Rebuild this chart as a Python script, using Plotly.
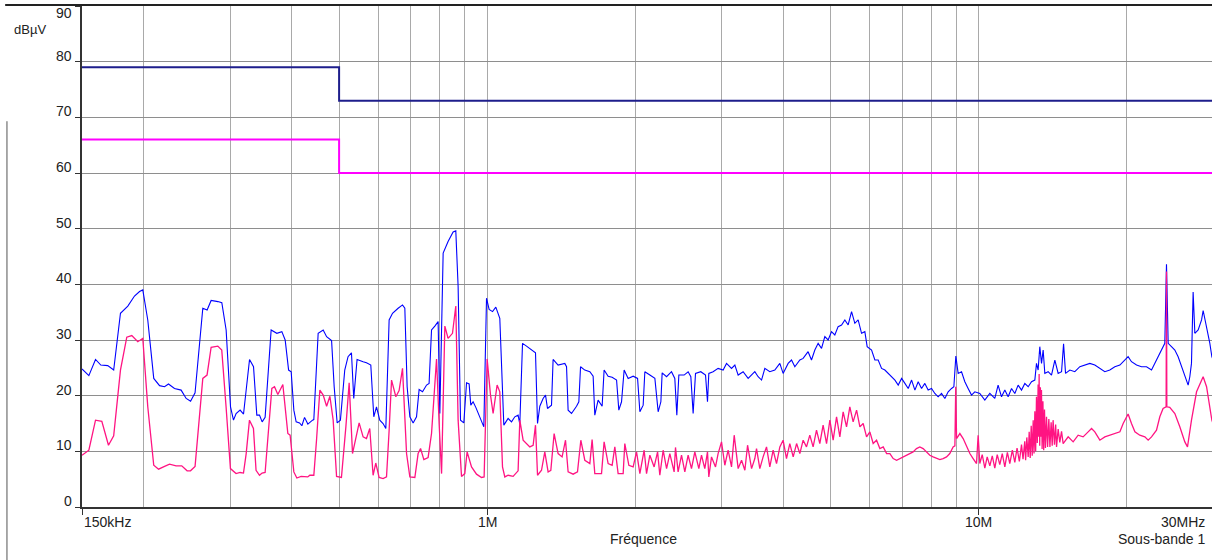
import numpy as np
import plotly.graph_objects as go

# ---------------- data (frequency in MHz, level in dBuV) ----------------
limit_f = [0.15, 0.5, 0.5, 30.0]
qp_limit = [79, 79, 73, 73]
avg_limit = [66, 66, 60, 60]

peak_f = [
    0.1500, 0.1549, 0.1598, 0.1638, 0.1692, 0.1740, 0.1796, 0.1859, 0.1918, 0.1964,
    0.1994, 0.2041, 0.2099, 0.2157, 0.2208, 0.2249, 0.2313, 0.2386, 0.2443, 0.2494,
    0.2547, 0.2641, 0.2695, 0.2746, 0.2834, 0.2887, 0.2946, 0.3007, 0.3049, 0.3087,
    0.3145, 0.3196, 0.3287, 0.3349, 0.3401, 0.3444, 0.3487, 0.3536, 0.3637, 0.3735,
    0.3824, 0.3884, 0.3947, 0.3995, 0.4045, 0.4089, 0.4155, 0.4200, 0.4253, 0.4319,
    0.4415, 0.4442, 0.4533, 0.4641, 0.4716, 0.4827, 0.4886, 0.4955, 0.5031, 0.5134,
    0.5214, 0.5298, 0.5355, 0.5439, 0.5595, 0.5684, 0.5800, 0.5882, 0.5957, 0.6049,
    0.6143, 0.6223, 0.6320, 0.6421, 0.6592, 0.6729, 0.6802, 0.6876, 0.6964, 0.7072,
    0.7185, 0.7273, 0.7390, 0.7531, 0.7621, 0.7708, 0.7828, 0.7950, 0.8014, 0.8139,
    0.8329, 0.8528, 0.8636, 0.8730, 0.8829, 0.8966, 0.9081, 0.9192, 0.9264, 0.9365,
    0.9484, 0.9618, 0.9741, 0.9847, 0.9972, 1.0094, 1.0257, 1.0416, 1.0612, 1.0698,
    1.0814, 1.1033, 1.1211, 1.1384, 1.1561, 1.1654, 1.1803, 1.2026, 1.2213, 1.2543,
    1.2662, 1.2799, 1.2998, 1.3145, 1.3267, 1.3520, 1.3620, 1.3943, 1.4388, 1.4505,
    1.4613, 1.4847, 1.5200, 1.5365, 1.5488, 1.5801, 1.6177, 1.6429, 1.6558, 1.6816,
    1.7136, 1.7295, 1.7624, 1.7957, 1.8334, 1.8529, 1.8765, 1.8996, 1.9358, 1.9814,
    2.0229, 2.0449, 2.0767, 2.0930, 2.1427, 2.1936, 2.2277, 2.2561, 2.2697, 2.3172,
    2.3714, 2.4083, 2.4312, 2.4543, 2.5155, 2.5633, 2.5960, 2.6242, 2.6534, 2.7201,
    2.7808, 2.8066, 2.8241, 2.8812, 2.9496, 3.0200, 3.0684, 3.1408, 3.1903, 3.2400,
    3.3163, 3.3950, 3.5030, 3.5576, 3.6150, 3.6712, 3.7576, 3.8468, 3.9381, 3.9994,
    4.0944, 4.1600, 4.2250, 4.3251, 4.3924, 4.4957, 4.5676, 4.6397, 4.7120, 4.7875,
    4.8620, 4.9377, 5.0168, 5.0949, 5.1742, 5.2584, 5.3402, 5.4233, 5.5102, 5.5959,
    5.6830, 5.7742, 5.8641, 5.9279, 6.0520, 6.1462, 6.2420, 6.3420, 6.4407, 6.5409,
    6.6457, 6.7507, 6.8558, 6.9657, 7.0741, 7.1842, 7.2994, 7.4131, 7.5285, 7.6478,
    7.7667, 7.8875, 8.0138, 8.1385, 8.2651, 8.3976, 8.5297, 8.6624, 8.8012, 8.8970,
    8.9794, 9.0771, 9.2226, 9.3660, 9.5117, 9.6642, 9.8152, 10.046, 10.285, 10.529,
    10.777, 10.945, 11.122, 11.295, 11.471, 11.655, 11.836, 12.021, 12.213, 12.404,
    12.599, 12.800, 12.999, 13.101, 13.201, 13.305, 13.413, 13.515, 13.622, 13.834,
    14.055, 14.277, 14.499, 14.732, 14.871, 15.009, 15.316, 15.677, 16.049, 16.430,
    16.817, 17.216, 17.625, 18.040, 18.468, 18.906, 19.360, 19.810, 20.120, 20.440,
    20.930, 21.420, 21.930, 22.450, 22.980, 23.530, 23.890, 24.080, 24.270, 24.650,
    25.040, 25.430, 25.840, 26.240, 26.650, 26.860, 27.070, 27.280, 27.500, 27.930,
    28.380, 28.590, 29.050, 29.500, 29.780, 29.950,
]
peak_v = [
    24.8, 23.6, 26.5, 25.5, 25.4, 24.6, 34.8, 36.1, 37.9, 38.7,
    39.0, 33.6, 23.1, 21.8, 21.6, 22.1, 21.3, 21.0, 19.5, 19.0,
    20.5, 35.7, 35.4, 37.1, 36.9, 36.7, 31.8, 18.0, 15.6, 16.8,
    17.4, 16.7, 26.5, 25.2, 16.5, 16.5, 15.3, 16.1, 31.8, 31.2,
    31.5, 30.0, 24.6, 24.3, 17.4, 15.3, 15.1, 14.6, 16.1, 14.9,
    15.6, 15.7, 31.2, 31.8, 30.6, 29.9, 21.6, 15.1, 15.6, 24.6,
    27.0, 27.7, 19.5, 26.5, 26.1, 25.9, 25.5, 16.2, 18.0, 15.6,
    15.0, 14.1, 33.6, 34.8, 35.7, 36.3, 35.7, 21.6, 16.2, 15.1,
    16.2, 21.1, 20.7, 21.9, 22.2, 31.8, 32.5, 33.3, 16.8, 45.6,
    47.7, 49.4, 49.6, 39.6, 15.6, 15.1, 22.3, 22.1, 18.3, 18.9,
    17.9, 16.5, 15.3, 14.4, 37.5, 35.5, 35.1, 35.9, 33.9, 24.6,
    14.7, 15.9, 15.3, 16.2, 16.5, 14.9, 29.4, 28.9, 28.5, 27.7,
    15.0, 18.1, 19.5, 20.1, 17.7, 18.3, 26.5, 25.5, 25.8, 25.2,
    17.4, 16.8, 18.1, 18.9, 25.2, 24.6, 24.3, 23.5, 16.5, 19.2,
    18.1, 24.6, 23.5, 23.3, 22.8, 17.4, 18.9, 24.6, 23.1, 23.5,
    23.1, 17.1, 18.3, 24.3, 23.7, 23.1, 17.1, 18.9, 24.1, 23.4,
    24.3, 23.1, 16.5, 23.7, 23.7, 24.3, 23.4, 16.8, 24.0, 24.3,
    23.7, 18.9, 24.0, 24.3, 24.9, 24.6, 25.8, 24.9, 25.5, 23.7,
    24.3, 23.1, 24.3, 23.4, 22.8, 24.9, 24.3, 24.6, 25.8, 24.0,
    25.8, 26.4, 25.2, 26.4, 26.7, 27.9, 26.4, 28.2, 29.4, 28.5,
    30.6, 30.0, 31.5, 30.9, 32.4, 32.7, 33.6, 32.7, 35.1, 33.0,
    33.6, 31.2, 31.5, 28.8, 28.2, 26.4, 26.4, 24.9, 24.6, 24.0,
    23.4, 22.8, 21.9, 23.1, 22.2, 21.3, 22.8, 21.0, 22.5, 21.3,
    22.2, 21.0, 21.3, 20.4, 19.8, 20.4, 19.5, 20.7, 21.3, 21.6,
    27.1, 24.0, 24.3, 22.5, 21.3, 20.1, 20.7, 20.4, 19.2, 20.4,
    19.5, 21.9, 19.8, 21.0, 19.8, 21.3, 20.4, 21.9, 21.0, 22.2,
    21.6, 22.5, 22.8, 25.8, 24.6, 28.8, 25.8, 28.2, 24.0, 24.3,
    23.7, 26.4, 24.0, 24.3, 29.3, 24.0, 24.6, 24.3, 25.2, 25.5,
    25.8, 25.5, 24.9, 24.3, 24.6, 25.2, 25.5, 26.4, 27.0, 26.1,
    25.5, 25.2, 25.2, 24.6, 26.4, 28.2, 29.4, 43.6, 29.4, 28.8,
    28.2, 27.0, 25.2, 23.7, 21.9, 23.4, 25.8, 38.6, 31.2, 31.8,
    33.6, 35.3, 32.4, 29.4, 27.0, 26.5,
]

# average trace, below 10 MHz
avg_f_low = [
    0.1500, 0.1549, 0.1598, 0.1646, 0.1698, 0.1740, 0.1796, 0.1850, 0.1894, 0.1948,
    0.1994, 0.2041, 0.2099, 0.2147, 0.2208, 0.2260, 0.2330, 0.2393, 0.2454, 0.2493,
    0.2547, 0.2641, 0.2694, 0.2746, 0.2833, 0.2886, 0.2945, 0.3006, 0.3086, 0.3145,
    0.3195, 0.3236, 0.3286, 0.3348, 0.3389, 0.3444, 0.3486, 0.3536, 0.3649, 0.3695,
    0.3753, 0.3842, 0.3933, 0.3975, 0.4045, 0.4102, 0.4185, 0.4318, 0.4359, 0.4442,
    0.4498, 0.4569, 0.4641, 0.4716, 0.4789, 0.4863, 0.4941, 0.5055, 0.5161, 0.5241,
    0.5324, 0.5408, 0.5492, 0.5595, 0.5684, 0.5772, 0.5863, 0.5937, 0.6030, 0.6143,
    0.6243, 0.6320, 0.6392, 0.6522, 0.6622, 0.6729, 0.6857, 0.6964, 0.7129, 0.7239,
    0.7322, 0.7436, 0.7586, 0.7708, 0.7891, 0.7988, 0.8079, 0.8204, 0.8329, 0.8503,
    0.8636, 0.8730, 0.8870, 0.9007, 0.9106, 0.9296, 0.9515, 0.9741, 0.9861, 1.0000,
    1.0160, 1.0285, 1.0479, 1.0612, 1.0747, 1.0864, 1.1033, 1.1295, 1.1561, 1.1654,
    1.1837, 1.2213, 1.2404, 1.2543, 1.2662, 1.2901, 1.3101, 1.3306, 1.3476, 1.3686,
    1.3943, 1.4207, 1.4435, 1.4613, 1.4960, 1.5270, 1.5509, 1.5801, 1.6177, 1.6350,
    1.6558, 1.7087, 1.7295, 1.7624, 1.7957, 1.8186, 1.8469, 1.8909, 1.9055, 1.9421,
    1.9814, 2.0131, 2.0449, 2.0862, 2.1097, 2.1427, 2.1862, 2.2216, 2.2452, 2.2803,
    2.3172, 2.3528, 2.4006, 2.4160, 2.4459, 2.4853, 2.5240, 2.5633, 2.6040, 2.6450,
    2.6950, 2.7290, 2.7714, 2.8066, 2.8241, 2.8599, 2.9140, 2.9496, 2.9970, 3.0438,
    3.0913, 3.1408, 3.1805, 3.2400, 3.2920, 3.3434, 3.3860, 3.4500, 3.5030, 3.5311,
    3.5860, 3.6418, 3.7002, 3.7576, 3.8168, 3.8779, 3.9381, 3.9994, 4.0632, 4.1265,
    4.1927, 4.2595, 4.3251, 4.3924, 4.4623, 4.5318, 4.6026, 4.6763, 4.7490, 4.8230,
    4.9014, 4.9777, 5.0553, 5.1363, 5.2163, 5.2974, 5.3823, 5.4662, 5.5512, 5.6414,
    5.7292, 5.8183, 5.9116, 6.0036, 6.0970, 6.1948, 6.2912, 6.3906, 6.4931, 6.5940,
    6.6964, 6.8039, 6.9098, 7.0146, 7.1285, 7.2387, 7.3513, 7.4685, 7.5858, 7.7038,
    7.8274, 7.9492, 8.0740, 8.2035, 8.3311, 8.4607, 8.5963, 8.7297, 8.8656, 8.9400,
    8.9750, 9.0100, 9.1502, 9.2926, 9.4406, 9.5888, 9.7364, 9.8924, 9.9680,
]
avg_v_low = [
    9.3, 10.2, 15.6, 15.4, 11.1, 12.8, 24.6, 30.5, 30.8, 29.7,
    30.3, 18.0, 7.5, 6.8, 7.3, 7.7, 7.4, 7.4, 6.5, 6.5,
    7.3, 23.1, 23.7, 28.7, 28.9, 28.2, 18.0, 6.9, 6.0, 6.2,
    6.1, 9.6, 15.6, 14.1, 6.6, 5.7, 6.1, 6.2, 21.3, 21.6,
    20.2, 22.0, 13.2, 12.9, 6.3, 5.2, 5.5, 5.4, 5.7, 5.7,
    12.0, 21.0, 20.1, 18.1, 19.9, 15.6, 5.5, 5.3, 14.4, 22.3,
    9.6, 12.1, 15.1, 12.6, 12.3, 14.1, 5.7, 7.9, 5.3, 5.1,
    5.4, 13.8, 22.8, 19.8, 20.9, 24.9, 9.6, 5.4, 5.3, 9.6,
    10.5, 8.5, 8.9, 13.2, 26.6, 14.9, 6.0, 32.5, 30.3, 31.2,
    36.1, 15.6, 5.5, 6.0, 9.9, 7.2, 5.9, 5.3, 5.4, 26.6,
    20.1, 16.8, 21.9, 20.7, 7.2, 5.4, 5.7, 5.5, 6.5, 15.6,
    12.0, 10.8, 11.1, 14.7, 5.7, 6.6, 9.9, 6.3, 6.6, 13.2,
    9.6, 9.0, 12.0, 6.3, 5.9, 6.3, 12.0, 8.4, 7.8, 12.1,
    6.0, 6.0, 11.7, 7.8, 7.5, 10.8, 6.0, 6.0, 11.4, 7.5,
    7.2, 9.9, 6.0, 10.2, 6.0, 9.3, 7.2, 9.9, 5.7, 10.2,
    6.9, 9.6, 6.3, 10.7, 6.3, 9.3, 6.3, 9.3, 6.9, 9.9,
    6.9, 9.3, 6.9, 9.9, 5.4, 9.0, 7.2, 9.6, 11.7, 7.5,
    10.2, 7.2, 12.9, 6.9, 8.4, 6.6, 11.1, 6.9, 8.7, 10.5,
    6.9, 9.0, 10.8, 7.2, 10.2, 7.8, 10.8, 12.0, 8.7, 11.4,
    9.0, 11.4, 9.6, 12.0, 10.8, 12.9, 10.8, 13.8, 11.4, 14.7,
    11.4, 15.6, 12.0, 16.2, 12.6, 17.1, 14.4, 18.0, 15.3, 17.4,
    14.4, 15.0, 12.6, 13.5, 11.4, 12.0, 10.5, 10.8, 9.6, 9.6,
    8.7, 8.4, 8.7, 9.0, 9.3, 9.6, 9.9, 10.5, 10.8, 10.5,
    9.9, 9.3, 9.0, 8.7, 8.5, 8.7, 9.0, 9.6, 10.8, 11.0,
    21.6, 12.3, 13.2, 12.3, 10.8, 9.6, 8.7, 7.8, 12.9,
]
# average trace, 10 MHz and above
avg_f_high = [
    10.046, 10.160, 10.285, 10.400, 10.529, 10.650, 10.777, 10.900, 11.032, 11.160,
    11.295, 11.430, 11.561, 11.700, 11.836, 11.960, 12.090, 12.213, 12.300, 12.400,
    12.450, 12.520, 12.600, 12.660, 12.720, 12.780, 12.840, 12.900, 12.950, 13.000,
    13.050, 13.100, 13.150, 13.200, 13.240, 13.263, 13.300, 13.340, 13.370, 13.410,
    13.450, 13.500, 13.550, 13.600, 13.660, 13.730, 13.800, 13.880, 13.950, 14.030,
    14.100, 14.160, 14.250, 14.330, 14.390, 14.500, 14.610, 14.730, 14.842, 15.195,
    15.554, 15.922, 16.297, 16.686, 16.953, 17.216, 17.625, 18.040, 18.468, 18.906,
    19.360, 19.660, 20.120, 20.440, 20.770, 21.250, 21.760, 22.100, 22.450, 22.980,
    23.340, 23.700, 24.040, 24.080, 24.120, 24.450, 25.040, 25.630, 26.240, 26.570,
    27.070, 27.720, 28.380, 28.590, 29.050, 29.500, 29.780, 29.950,
]
avg_v_high = [
    7.8, 9.4, 7.0, 9.0, 7.4, 9.2, 7.0, 9.4, 7.6, 9.6,
    7.2, 9.8, 7.8, 10.2, 8.0, 10.6, 8.2, 11.2, 8.6, 11.8,
    8.4, 12.5, 9.0, 13.5, 8.8, 14.6, 9.2, 15.6, 9.6, 17.2,
    10.0, 19.8, 11.5, 22.0, 12.6, 23.9, 11.0, 21.5, 12.6, 21.0,
    10.4, 19.0, 10.2, 17.5, 10.6, 16.2, 10.8, 15.8, 10.8, 15.2,
    11.0, 15.6, 11.2, 14.8, 10.8, 14.0, 11.6, 13.6, 11.4, 12.6,
    11.7, 12.9, 12.6, 13.5, 14.1, 13.5, 12.0, 12.6, 12.9, 13.2,
    13.5, 15.0, 16.7, 15.0, 13.5, 12.9, 12.6, 12.0, 12.6, 13.8,
    16.2, 17.7, 18.0, 42.3, 18.0, 17.9, 16.8, 14.4, 11.7, 10.8,
    15.6, 20.7, 22.8, 23.4, 21.6, 17.4, 15.6, 15.0,
]
assert len(peak_f) == len(peak_v)
assert len(avg_f_low) == len(avg_v_low) and len(avg_f_high) == len(avg_v_high)
avg_f = avg_f_low + avg_f_high
avg_v = avg_v_low + avg_v_high

x_label_vals = [0.15, 1, 10, 30]
x_label_text = ["150kHz", "1M", "10M", "30MHz"]
x_minor_grid = [0.2, 0.3, 0.4, 0.5, 0.6, 0.7, 0.8, 0.9,
                2, 3, 4, 5, 6, 7, 8, 9, 20]
y_ticks = [0, 10, 20, 30, 40, 50, 60, 70, 80, 90]

FONT = "Liberation Sans, Arial, sans-serif"
TXT = "#222222"

fig = go.Figure()
fig.add_trace(go.Scatter(x=limit_f, y=qp_limit, mode="lines",
                         line=dict(color="#1e1e8c", width=2), hoverinfo="skip"))
fig.add_trace(go.Scatter(x=limit_f, y=avg_limit, mode="lines",
                         line=dict(color="#ff00ff", width=2), hoverinfo="skip"))
fig.add_trace(go.Scatter(x=peak_f, y=peak_v, mode="lines",
                         line=dict(color="#0000ff", width=1.1)))
fig.add_trace(go.Scatter(x=avg_f, y=avg_v, mode="lines",
                         line=dict(color="#ff1482", width=1.3)))

annotations = []
for v in y_ticks:
    annotations.append(dict(
        x=0, xref="paper", y=v, yref="y", text=str(v), showarrow=False,
        xanchor="right", yanchor="middle", xshift=-8,
        yshift=(-7 if v == 90 else 6),
        font=dict(family=FONT, size=14, color=TXT)))
annotations.append(dict(x=-0.062, xref="paper", y=0.954, yref="paper", text="dBµV",
                        showarrow=False, xanchor="left", yanchor="middle",
                        font=dict(family=FONT, size=13, color=TXT)))
for val, txt in zip(x_label_vals, x_label_text):
    if txt == "150kHz":
        ann = dict(x=float(np.log10(val)), xref="x", xanchor="left", xshift=0)
    elif txt == "30MHz":
        ann = dict(x=1, xref="paper", xanchor="right", xshift=-5)
    else:
        ann = dict(x=float(np.log10(val)), xref="x", xanchor="center", xshift=0)
    ann.update(y=0, yref="paper", text=txt, showarrow=False, yanchor="middle",
               yshift=-15, font=dict(family=FONT, size=14, color=TXT))
    annotations.append(ann)
annotations.append(dict(x=0.497, xref="paper", y=0, yref="paper", text="Fréquence",
                        showarrow=False, xanchor="center", yanchor="middle", yshift=-32,
                        font=dict(family=FONT, size=14, color=TXT)))
annotations.append(dict(x=1, xref="paper", y=0, yref="paper", text="Sous-bande 1",
                        showarrow=False, xanchor="right", yanchor="middle",
                        xshift=-5, yshift=-32,
                        font=dict(family=FONT, size=14, color=TXT)))

shapes = [
    dict(type="line", xref="paper", yref="paper", x0=-0.068, x1=1, y0=1.002, y1=1.002,
         line=dict(color="#222222", width=2)),
    dict(type="line", xref="paper", yref="paper", x0=-0.0664, x1=-0.0664, y0=0.77, y1=-0.11,
         line=dict(color="#555555", width=1)),
]

fig.update_layout(
    width=1212, height=560,
    margin=dict(l=82, r=0, t=6, b=53),
    plot_bgcolor="white", paper_bgcolor="white",
    showlegend=False,
    annotations=annotations,
    shapes=shapes,
    xaxis=dict(
        type="log", range=[np.log10(0.15), np.log10(29.8)],
        tickmode="array", tickvals=[0.15, 1, 10], showticklabels=False,
        ticks="outside", ticklen=6, tickcolor="#333333", tickwidth=1,
        showgrid=True, gridcolor="#a9a9a9", gridwidth=1.3,
        minor=dict(tickmode="array", tickvals=x_minor_grid, showgrid=True,
                   gridcolor="#a9a9a9", gridwidth=1.3, ticks=""),
        showline=True, linecolor="#333333", linewidth=2, mirror=True,
        zeroline=False,
    ),
    yaxis=dict(
        range=[0, 90], tickmode="array", tickvals=y_ticks, showticklabels=False,
        ticks="outside", ticklen=5, tickcolor="#333333",
        showgrid=True, gridcolor="#8e8e8e", gridwidth=1.3,
        showline=True, linecolor="#333333", linewidth=2,
        zeroline=False,
    ),
)

fig.write_html("out.html",
               config={"displayModeBar": False},
               post_script="document.body.style.margin='0px';document.body.style.overflow='hidden';")
